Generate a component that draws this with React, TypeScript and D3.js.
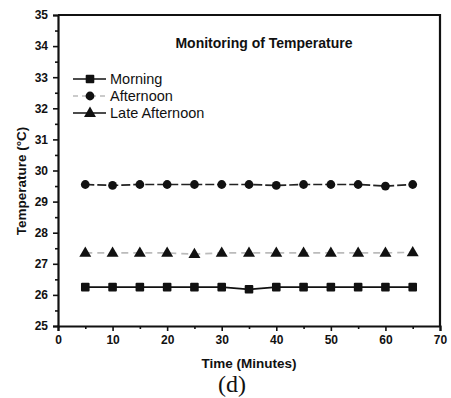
import React, { useEffect, useRef } from "react";
import * as d3 from "d3";

const times = [5, 10, 15, 20, 25, 30, 35, 40, 45, 50, 55, 60, 65];
const morning = [26.25, 26.25, 26.25, 26.25, 26.25, 26.25, 26.18, 26.25, 26.25, 26.25, 26.25, 26.25, 26.25];
const afternoon = [29.55, 29.52, 29.55, 29.55, 29.55, 29.55, 29.55, 29.52, 29.55, 29.55, 29.55, 29.5, 29.55];
const lateAfternoon = [27.35, 27.35, 27.35, 27.35, 27.31, 27.35, 27.35, 27.35, 27.35, 27.35, 27.35, 27.35, 27.37];
const seriesNames = ["Morning", "Afternoon", "Late Afternoon"];
const xTicks = [0, 10, 20, 30, 40, 50, 60, 70];
const yTicks = [25, 26, 27, 28, 29, 30, 31, 32, 33, 34, 35];

const W = 451;
const H = 398;
const margin = { left: 58, right: 11, top: 15, bottom: 72 };

export default function App() {
  const svgRef = useRef<SVGSVGElement>(null);

  useEffect(() => {
    const svg = d3.select(svgRef.current);
    svg.selectAll("*").remove();

    const x = d3.scaleLinear().domain([0, 70]).range([margin.left, W - margin.right]);
    const y = d3.scaleLinear().domain([25, 35]).range([H - margin.bottom, margin.top]);
    const font = "'Liberation Sans', Arial, sans-serif";

    svg.append("rect").attr("width", W).attr("height", H).attr("fill", "#fff");

    // frame (top + right)
    svg
      .append("path")
      .attr("d", `M${x(0)},${y(35)}H${x(70)}V${y(25)}`)
      .attr("fill", "none")
      .attr("stroke", "#111")
      .attr("stroke-width", 2.2);

    // axes
    const xAxis = svg
      .append("g")
      .attr("transform", `translate(0,${y(25)})`)
      .call(d3.axisBottom(x).tickValues(xTicks).tickSize(5).tickPadding(4).tickFormat(d3.format("d")));
    const xMinor = svg
      .append("g")
      .attr("transform", `translate(0,${y(25)})`)
      .call(d3.axisBottom(x).tickValues(d3.range(5, 70, 10)).tickSize(3).tickFormat(() => ""));
    const yAxis = svg
      .append("g")
      .attr("transform", `translate(${x(0)},0)`)
      .call(d3.axisLeft(y).tickValues(yTicks).tickSize(5).tickPadding(5).tickFormat(d3.format("d")));
    const yMinor = svg
      .append("g")
      .attr("transform", `translate(${x(0)},0)`)
      .call(d3.axisLeft(y).tickValues(d3.range(25.5, 35, 1)).tickSize(3).tickFormat(() => ""));

    [xAxis, xMinor, yAxis, yMinor].forEach((g) => {
      g.select(".domain").attr("stroke", "#111").attr("stroke-width", 2.2);
      g.selectAll(".tick line").attr("stroke", "#111").attr("stroke-width", 1.6);
      g.selectAll("text")
        .attr("font-family", font)
        .attr("font-weight", "bold")
        .attr("font-size", 12)
        .attr("fill", "#111");
    });
    xMinor.select(".domain").remove();
    yMinor.select(".domain").remove();

    // lines
    const line = (vals: number[]) =>
      d3
        .line<number>()
        .x((_, i) => x(times[i]))
        .y((d) => y(d))(vals);

    const styles = [
      { vals: morning, stroke: "#111", dash: null as string | null, shape: "square" },
      { vals: afternoon, stroke: "#222", dash: "9 3", shape: "circle" },
      { vals: lateAfternoon, stroke: "#bbb", dash: "7 5", shape: "triangle" },
    ];

    const drawMarker = (g: any, shape: string, cx: number, cy: number) => {
      if (shape === "square") {
        g.append("rect")
          .attr("x", cx - 4.3)
          .attr("y", cy - 4.3)
          .attr("width", 8.6)
          .attr("height", 8.6)
          .attr("rx", 1)
          .attr("fill", "#111");
      } else if (shape === "circle") {
        g.append("circle").attr("cx", cx).attr("cy", cy).attr("r", 4.4).attr("fill", "#111");
      } else {
        g.append("path")
          .attr("d", d3.symbol(d3.symbolTriangle, 62)())
          .attr("transform", `translate(${cx},${cy + 0.5})`)
          .attr("fill", "#111");
      }
    };

    styles.forEach((s) => {
      svg
        .append("path")
        .attr("d", line(s.vals))
        .attr("fill", "none")
        .attr("stroke", s.stroke)
        .attr("stroke-width", 1.7)
        .attr("stroke-dasharray", s.dash);
      const g = svg.append("g");
      s.vals.forEach((v, i) => drawMarker(g, s.shape, x(times[i]), y(v)));
    });

    // title
    svg
      .append("text")
      .attr("x", 264)
      .attr("y", 48)
      .attr("text-anchor", "middle")
      .attr("font-family", font)
      .attr("font-weight", "bold")
      .attr("font-size", 14)
      .attr("fill", "#111")
      .text("Monitoring of Temperature");

    // legend
    const legendStyles = [
      { stroke: "#111", dash: null as string | null, shape: "square" },
      { stroke: "#bbb", dash: "5 4", shape: "circle" },
      { stroke: "#111", dash: null as string | null, shape: "triangle" },
    ];
    const legendY = [79, 96, 113];
    seriesNames.forEach((name, i) => {
      const g = svg.append("g");
      g.append("line")
        .attr("x1", 73)
        .attr("x2", 106)
        .attr("y1", legendY[i])
        .attr("y2", legendY[i])
        .attr("stroke", legendStyles[i].stroke)
        .attr("stroke-width", 1.7)
        .attr("stroke-dasharray", legendStyles[i].dash);
      drawMarker(g, legendStyles[i].shape, 90, legendY[i]);
      g.append("text")
        .attr("x", 110)
        .attr("y", legendY[i] + 5)
        .attr("font-family", font)
        .attr("font-size", 14.5)
        .attr("fill", "#111")
        .text(name);
    });

    // axis titles
    svg
      .append("text")
      .attr("x", 249)
      .attr("y", 368)
      .attr("text-anchor", "middle")
      .attr("font-family", font)
      .attr("font-weight", "bold")
      .attr("font-size", 13.5)
      .attr("fill", "#111")
      .text("Time (Minutes)");

    svg
      .append("text")
      .attr("transform", `translate(26,181) rotate(-90)`)
      .attr("text-anchor", "middle")
      .attr("font-family", font)
      .attr("font-weight", "bold")
      .attr("font-size", 13.5)
      .attr("fill", "#111")
      .text("Temperature (°C)");

    svg
      .append("text")
      .attr("x", 232)
      .attr("y", 392)
      .attr("text-anchor", "middle")
      .attr("font-family", "'Liberation Serif', 'Times New Roman', serif")
      .attr("font-size", 24)
      .attr("fill", "#111")
      .text("(d)");
  }, []);

  return (
    <svg
      ref={svgRef}
      width={W}
      height={H}
      style={{ position: "absolute", left: 0, top: 0 }}
    />
  );
}
